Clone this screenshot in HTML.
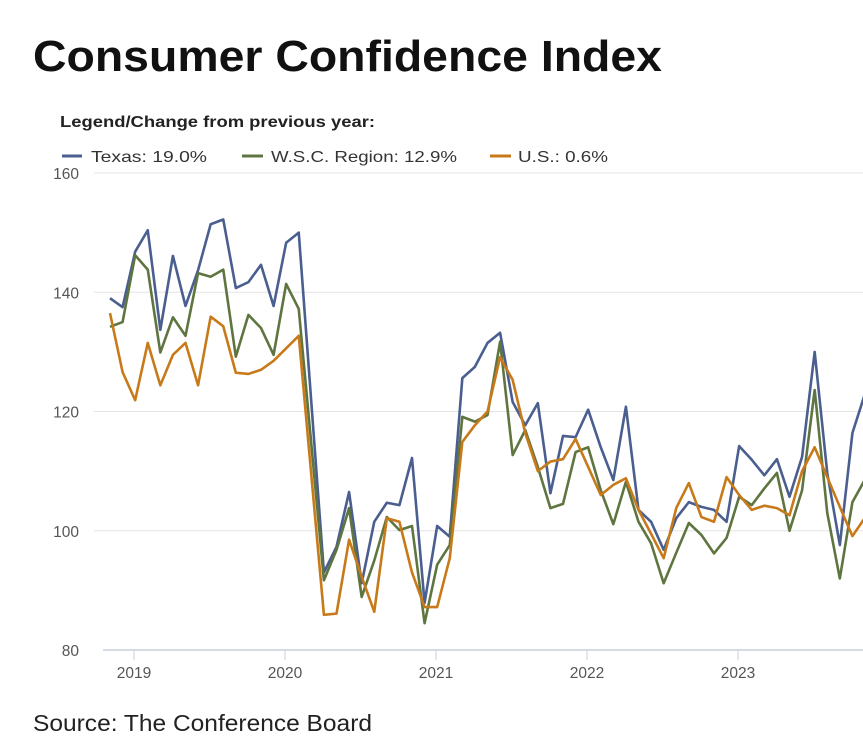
<!DOCTYPE html>
<html><head><meta charset="utf-8"><style>
body{margin:0;width:863px;height:750px;background:#fff;overflow:hidden;font-family:"Liberation Sans",sans-serif;}
svg{display:block}
</style></head><body>
<svg id="c" width="863" height="750">
<text x="33" y="71" font-size="44" font-weight="bold" fill="#111" textLength="629" lengthAdjust="spacingAndGlyphs">Consumer Confidence Index</text>
<text x="60" y="127" font-size="16" font-weight="bold" fill="#222" textLength="315" lengthAdjust="spacingAndGlyphs">Legend/Change from previous year:</text>
<g><line x1="62" y1="156" x2="82" y2="156" stroke="#4a5e8f" stroke-width="3"/><text x="91" y="162" font-size="16" fill="#333" textLength="116" lengthAdjust="spacingAndGlyphs">Texas: 19.0%</text></g>
<g><line x1="242" y1="156" x2="263" y2="156" stroke="#5f7540" stroke-width="3"/><text x="271" y="162" font-size="16" fill="#333" textLength="186" lengthAdjust="spacingAndGlyphs">W.S.C. Region: 12.9%</text></g>
<g><line x1="490" y1="156" x2="511" y2="156" stroke="#c87a1a" stroke-width="3"/><text x="518" y="162" font-size="16" fill="#333" textLength="90" lengthAdjust="spacingAndGlyphs">U.S.: 0.6%</text></g>
<g id="grid"></g><g id="axes"></g><g id="lines"></g>
<text x="33" y="731" font-size="23" fill="#222" textLength="339" lengthAdjust="spacingAndGlyphs">Source: The Conference Board</text>
</svg>
<script>
const yTicks=[80,100,120,140,160];
const xTickLabels=["2019","2020","2021","2022","2023"];
const texas=[139,137.5,146.8,150.4,133.7,146.1,137.7,143.7,151.4,152.2,140.7,141.7,144.6,137.7,148.3,150,121.5,93,97.3,106.5,91.2,101.5,104.7,104.3,112.2,87.9,100.8,99,125.6,127.5,131.5,133.2,121.6,117.7,121.4,106.3,115.9,115.7,120.3,114,108.5,120.8,103.5,101.5,96.8,102.1,104.8,104,103.5,101.5,114.2,111.9,109.3,112,105.7,112.4,130,109.7,97.6,116.4,123];
const wsc=[134.2,135,146.2,143.8,129.9,135.8,132.7,143.2,142.6,143.8,129.2,136.2,134,129.5,141.4,137.2,114.5,91.7,96.8,103.8,88.9,95,102.3,100.1,100.8,84.5,94.3,97.6,119.1,118.3,119.4,131.7,112.7,116.9,110.7,103.8,104.5,113.2,114,106.8,101.1,108.2,101.5,97.9,91.2,96.3,101.3,99.3,96.2,98.8,105.7,104.3,107.1,109.7,100,106.8,123.6,103,92,104.8,108.6];
const us=[136.5,126.6,121.9,131.5,124.4,129.5,131.5,124.4,135.9,134.3,126.5,126.3,127,128.5,130.6,132.7,109.3,85.9,86.1,98.5,92.3,86.4,102.1,101.5,93,87.2,87.2,95.4,114.9,117.7,120,129.1,125.3,116.4,110,111.6,112,115.4,110.7,106,107.7,108.8,103.5,99.5,95.4,103.8,108,102.3,101.5,109,106,103.5,104.2,103.8,102.6,110,114,109,104,99.1,102.2];
const NS="http://www.w3.org/2000/svg";
const y=v=>173+(160-v)*(477/80);
const x=i=>110+i*(151/12);
const xYear=k=>134+k*151;
function mk(t,a,p){const e=document.createElementNS(NS,t);for(const k in a)e.setAttribute(k,a[k]);p.appendChild(e);return e;}
const grid=document.getElementById('grid'),axes=document.getElementById('axes'),lines=document.getElementById('lines');
yTicks.forEach(v=>{
  if(v>80){const g=mk('line',{x1:94,x2:863,y1:y(v),y2:y(v),stroke:'#e3e3e3','stroke-width':1},grid);
  
  }
  const t=mk('text',{x:79,y:y(v)+6,'font-size':15.5,fill:'#555','text-anchor':'end'},axes);t.textContent=v;
  
  
});
const ax=mk('line',{x1:103,x2:863,y1:650,y2:650,stroke:'#c8d0dc','stroke-width':1.5},axes);


xTickLabels.forEach((l,k)=>{
  const tk=mk('line',{x1:xYear(k),x2:xYear(k),y1:650,y2:660,stroke:'#c8d0dc','stroke-width':1},axes);
  
  
  const t=mk('text',{x:xYear(k),y:678,'font-size':15.5,fill:'#555','text-anchor':'middle'},axes);t.textContent=l;
  
  
});
[[texas,'#4a5e8f','texas'],[wsc,'#5f7540','wsc-region'],[us,'#c87a1a','us']].forEach(([d,c,n])=>{
  const p=mk('polyline',{points:d.map((v,i)=>x(i)+','+y(v)).join(' '),fill:'none',stroke:c,'stroke-width':2.6,'stroke-linejoin':'round'},lines);
  
  
});
</script>
</body></html>
